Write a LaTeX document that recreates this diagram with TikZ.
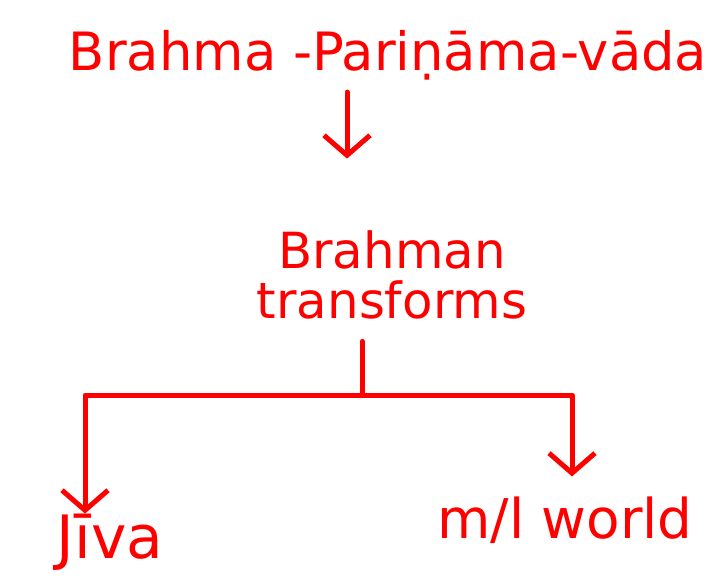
\documentclass[tikz,border=0pt]{standalone}
\usepackage{fontspec}
\setmainfont{DejaVu Sans}
\usetikzlibrary{arrows.meta,positioning}
\begin{document}
\begin{tikzpicture}[x=1bp, y=-1bp, line join=round, line cap=round,
	>={Straight Barb[length=20bp,width=46bp]},
	lbl/.style={text=red, inner sep=0pt, font=\fontsize{53}{55}\selectfont},
	link/.style={draw=red, line width=5bp}]
		\useasboundingbox (0,0) rectangle (710,580);
		\node[lbl] (title) at (388,55) {Brahma -Pariṇāma-vāda};
		\node[lbl, align=center, font=\fontsize{50}{50}\selectfont] (brahman) at (392,275) {Brahman\\transforms};
		\node[lbl, font=\fontsize{60}{60}\selectfont] (jiva) at (110,542) {Jīva};
		\node[lbl, font=\fontsize{55}{55}\selectfont] (world) at (565,520) {m/l world};
		\coordinate (split) at (362,395);
		\draw[link, ->, shorten <=12bp, shorten >=72bp] ([xshift=-15bp]title.south -| split) -- ([xshift=-15bp]brahman.north -| split);
		\draw[link, shorten <=22bp] (brahman.south -| split) -- (split);
		\draw[link, ->] (split) -| ([xshift=-25bp]jiva.north);
		\draw[link, ->, shorten >=20bp] (split) -| ([xshift=7bp]world.north);
\end{tikzpicture}
\end{document}
